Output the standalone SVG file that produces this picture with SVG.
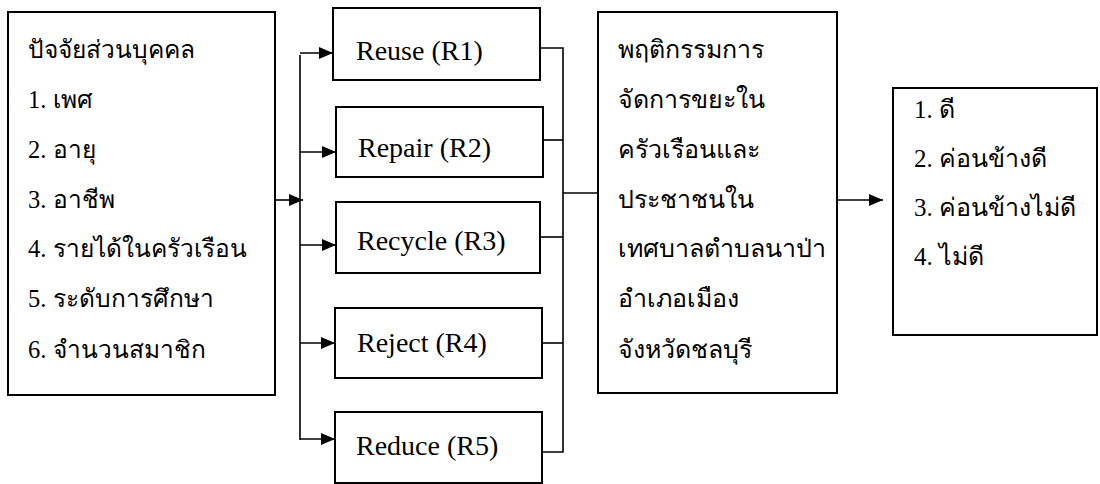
<svg xmlns="http://www.w3.org/2000/svg" width="1100" height="484" viewBox="0 0 1100 484">
<defs>
<marker id="ah" viewBox="0 0 14 12" refX="14" refY="6" markerWidth="14" markerHeight="12" markerUnits="userSpaceOnUse" orient="auto">
<path d="M0,0 L14,6 L0,12 Z" fill="#000"/>
</marker>
</defs>
<style>
.box{fill:#fff;stroke:#000;stroke-width:2}
.th{font-family:'Liberation Serif','Times New Roman','DejaVu Serif',serif;font-size:24.5px;fill:#000}
.bh{font-size:25px}
.en{font-family:'Liberation Serif','Times New Roman','Tinos','DejaVu Serif',serif;font-size:28px;fill:#000}
.ln{fill:none;stroke:#000;stroke-width:1.6}
.ar{fill:none;stroke:#000;stroke-width:1.6;marker-end:url(#ah)}
</style>
<rect width="1100" height="484" fill="#fff"/>
<g id="connectors">
<line class="ar" x1="275" y1="200" x2="303" y2="200"/>
<line class="ln" x1="300" y1="55" x2="300" y2="440"/>
<line class="ar" x1="300" y1="53" x2="333" y2="53"/>
<line class="ar" x1="300" y1="152" x2="336" y2="152"/>
<line class="ar" x1="300" y1="245" x2="336" y2="245"/>
<line class="ar" x1="300" y1="343" x2="335" y2="343"/>
<line class="ar" x1="300" y1="439" x2="335" y2="439"/>
<polyline class="ln" points="540,48 563,48 563,452 542,452"/>
<line class="ln" x1="543" y1="140" x2="563" y2="140"/>
<line class="ln" x1="540" y1="237" x2="563" y2="237"/>
<line class="ln" x1="542" y1="343" x2="563" y2="343"/>
<line class="ln" x1="563" y1="193" x2="598" y2="193"/>
<line class="ar" x1="837" y1="200" x2="883" y2="200"/>
</g>
<g id="personal">
<rect class="box" x="8" y="12" width="267" height="383"/>
<text class="th" x="28" y="58">ปัจจัยส่วนบุคคล</text>
<text class="th" x="28" y="108">1. เพศ</text>
<text class="th" x="28" y="158">2. อายุ</text>
<text class="th" x="28" y="208">3.  อาชีพ</text>
<text class="th" x="28" y="257">4.  รายได้ในครัวเรือน</text>
<text class="th" x="28" y="307">5.  ระดับการศึกษา</text>
<text class="th" x="28" y="358">6.  จำนวนสมาชิก</text>
</g>
<g id="r1">
<rect class="box" x="333" y="8" width="207" height="72"/>
<text class="en" x="356" y="60">Reuse (R1)</text>
</g>
<g id="r2">
<rect class="box" x="336" y="107" width="207" height="70"/>
<text class="en" x="358" y="157">Repair (R2)</text>
</g>
<g id="r3">
<rect class="box" x="336" y="202" width="204" height="71"/>
<text class="en" x="357" y="250">Recycle (R3)</text>
</g>
<g id="r4">
<rect class="box" x="335" y="308" width="207" height="70"/>
<text class="en" x="357" y="352">Reject (R4)</text>
</g>
<g id="r5">
<rect class="box" x="335" y="412" width="207" height="71"/>
<text class="en" x="356" y="455">Reduce (R5)</text>
</g>
<g id="behavior">
<rect class="box" x="598" y="12" width="239" height="381"/>
<text class="th bh" x="618" y="58">พฤติกรรมการ</text>
<text class="th bh" x="618" y="108">จัดการขยะใน</text>
<text class="th bh" x="618" y="158">ครัวเรือนและ</text>
<text class="th bh" x="618" y="208">ประชาชนใน</text>
<text class="th bh" x="618" y="257">เทศบาลตำบลนาป่า</text>
<text class="th bh" x="618" y="307">อำเภอเมือง</text>
<text class="th bh" x="618" y="358">จังหวัดชลบุรี</text>
</g>
<g id="result">
<rect class="box" x="893" y="88" width="204" height="247"/>
<text class="th bh" x="914" y="118">1.  ดี</text>
<text class="th bh" x="914" y="167">2.  ค่อนข้างดี</text>
<text class="th bh" x="914" y="216">3.  ค่อนข้างไม่ดี</text>
<text class="th bh" x="914" y="265">4.  ไม่ดี</text>
</g>
</svg>
